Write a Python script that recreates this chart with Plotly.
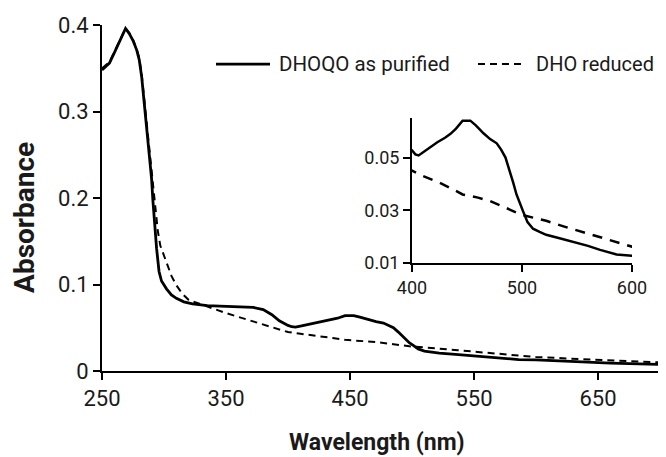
import plotly.graph_objects as go

# --- data ---
wl_purified = [250, 253, 256, 260, 263, 266, 269, 272, 275, 278, 280, 282, 284, 286, 288, 290, 291, 292, 293,
               294, 296, 298, 302, 306, 310, 316, 323, 335, 345, 360, 372, 380, 387, 393, 398,
               400, 403, 406, 410, 416, 423, 430, 435, 440, 446, 453, 458, 465, 471, 477, 481, 485, 489,
               492, 495, 498, 501, 505, 510, 516, 522, 535, 547, 560, 571, 586, 600, 630, 660, 700]
abs_purified = [0.348, 0.352, 0.356, 0.368, 0.377, 0.387, 0.396, 0.390, 0.382, 0.371, 0.360, 0.340, 0.310,
                0.283, 0.250, 0.222, 0.198, 0.175, 0.160, 0.142, 0.115, 0.104, 0.095, 0.088, 0.084, 0.080,
                0.0775, 0.0755, 0.075, 0.0745, 0.0735, 0.071, 0.065, 0.058, 0.0535,
                0.0527, 0.0512, 0.0508, 0.0520, 0.0538, 0.0558, 0.0575, 0.0590, 0.0610, 0.0640, 0.0640,
                0.0622, 0.0592, 0.0570, 0.0554, 0.0530, 0.0500, 0.0450, 0.0405, 0.0360, 0.0325, 0.0296,
                0.0255, 0.0230, 0.0218, 0.0207, 0.0193, 0.0180, 0.0165, 0.0150, 0.0132, 0.0128, 0.0105,
                0.0090, 0.0075]

wl_reduced = [250, 253, 256, 260, 263, 266, 269, 272, 275, 278, 280, 282, 284, 286, 288, 290, 292, 294, 295,
              297, 300, 302, 306, 310, 315, 320, 330, 339, 350, 368, 385, 400, 410, 425, 436, 446, 460,
              471, 485, 498, 510, 522, 537, 553, 565, 577, 590, 600, 625, 648, 675, 700]
abs_reduced = [0.350, 0.354, 0.357, 0.369, 0.378, 0.388, 0.396, 0.391, 0.383, 0.372, 0.362, 0.343, 0.315,
               0.288, 0.258, 0.232, 0.205, 0.178, 0.162, 0.145, 0.133, 0.125, 0.110, 0.099, 0.089, 0.082,
               0.077, 0.073, 0.067, 0.059, 0.052, 0.0450, 0.0430, 0.0405, 0.0382, 0.0360, 0.0348,
               0.0335, 0.0310, 0.0285, 0.0272, 0.0260, 0.0240, 0.0220, 0.0205, 0.0190, 0.0175, 0.0162,
               0.0145, 0.0130, 0.0115, 0.0100]

series_names = ["DHOQO as purified", "DHO reduced"]

main_x_ticks = [250, 350, 450, 550, 650]
main_y_ticks = [0, 0.1, 0.2, 0.3, 0.4]
main_y_labels = ["0", "0.1", "0.2", "0.3", "0.4"]
inset_x_ticks = [400, 500, 600]
inset_y_ticks = [0.01, 0.03, 0.05]
inset_y_labels = ["0.01", "0.03", "0.05"]

FONT = "Roboto"
INK = "#1a1a1a"
SOLID_W = 2.8
DASH_W = 2.0
DASH_MAIN = "7px,5px"

fig = go.Figure()
fig.add_trace(go.Scatter(x=wl_purified, y=abs_purified, mode="lines", name=series_names[0],
                         line=dict(color="black", width=SOLID_W), xaxis="x", yaxis="y"))
fig.add_trace(go.Scatter(x=wl_reduced, y=abs_reduced, mode="lines", name=series_names[1],
                         line=dict(color="black", width=DASH_W, dash=DASH_MAIN), xaxis="x", yaxis="y"))
# inset
fig.add_trace(go.Scatter(x=wl_purified, y=abs_purified, mode="lines", showlegend=False,
                         line=dict(color="black", width=2.5), xaxis="x2", yaxis="y2"))
fig.add_trace(go.Scatter(x=wl_reduced, y=abs_reduced, mode="lines", showlegend=False,
                         line=dict(color="black", width=2.5, dash="10px,8px"), xaxis="x2", yaxis="y2"))

axis_common = dict(showgrid=False, zeroline=False, showline=True, linecolor="black", linewidth=2,
                   ticks="outside", ticklen=7, tickwidth=2, tickcolor="black", automargin=False)

# legend keys (drawn in paper coordinates, like a legend)
LEG_Y = 0.887
shapes = [
    dict(type="line", xref="paper", yref="paper", x0=0.2043, x1=0.3011, y0=LEG_Y, y1=LEG_Y,
         line=dict(color="black", width=SOLID_W)),
    dict(type="line", xref="paper", yref="paper", x0=0.6738, x1=0.7599, y0=LEG_Y, y1=LEG_Y,
         line=dict(color="black", width=DASH_W, dash=DASH_MAIN)),
]

# the page body adds an 8px offset, so the figure is 8px smaller than the window
fig.update_layout(
    width=658, height=449,
    margin=dict(l=94, r=6, t=17, b=86),
    plot_bgcolor="white", paper_bgcolor="white",
    font=dict(family=FONT, color=INK),
    showlegend=False,
    xaxis=dict(range=[250, 700], tickvals=main_x_ticks, tickfont=dict(size=22),
               domain=[0, 1], **axis_common),
    yaxis=dict(range=[0, 0.4], tickvals=main_y_ticks, ticktext=main_y_labels, tickfont=dict(size=22),
               domain=[0, 1], **axis_common),
    xaxis2=dict(range=[400, 600], tickvals=inset_x_ticks, tickfont=dict(size=18),
                domain=[0.5556, 0.9498], anchor="y2", **axis_common),
    yaxis2=dict(range=[0.01, 0.065], tickvals=inset_y_ticks, ticktext=inset_y_labels,
                tickfont=dict(size=18), domain=[0.3121, 0.7312], anchor="x2", **axis_common),
    shapes=shapes,
    annotations=[
        dict(text=series_names[0], xref="paper", yref="paper", x=0.3136, y=LEG_Y,
             xanchor="left", yanchor="middle", showarrow=False, font=dict(size=20.5)),
        dict(text=series_names[1], xref="paper", yref="paper", x=0.775, y=LEG_Y,
             xanchor="left", yanchor="middle", showarrow=False, font=dict(size=20)),
        dict(text="<b>Wavelength (nm)</b>", xref="paper", yref="paper", x=0.492, y=-0.207,
             xanchor="center", yanchor="middle", showarrow=False, font=dict(size=23)),
        dict(text="<b>Absorbance</b>", xref="paper", yref="paper", x=-0.14, y=0.445,
             xanchor="center", yanchor="middle", textangle=-90, showarrow=False, font=dict(size=28)),
    ],
)

fig.write_html("out.html")
